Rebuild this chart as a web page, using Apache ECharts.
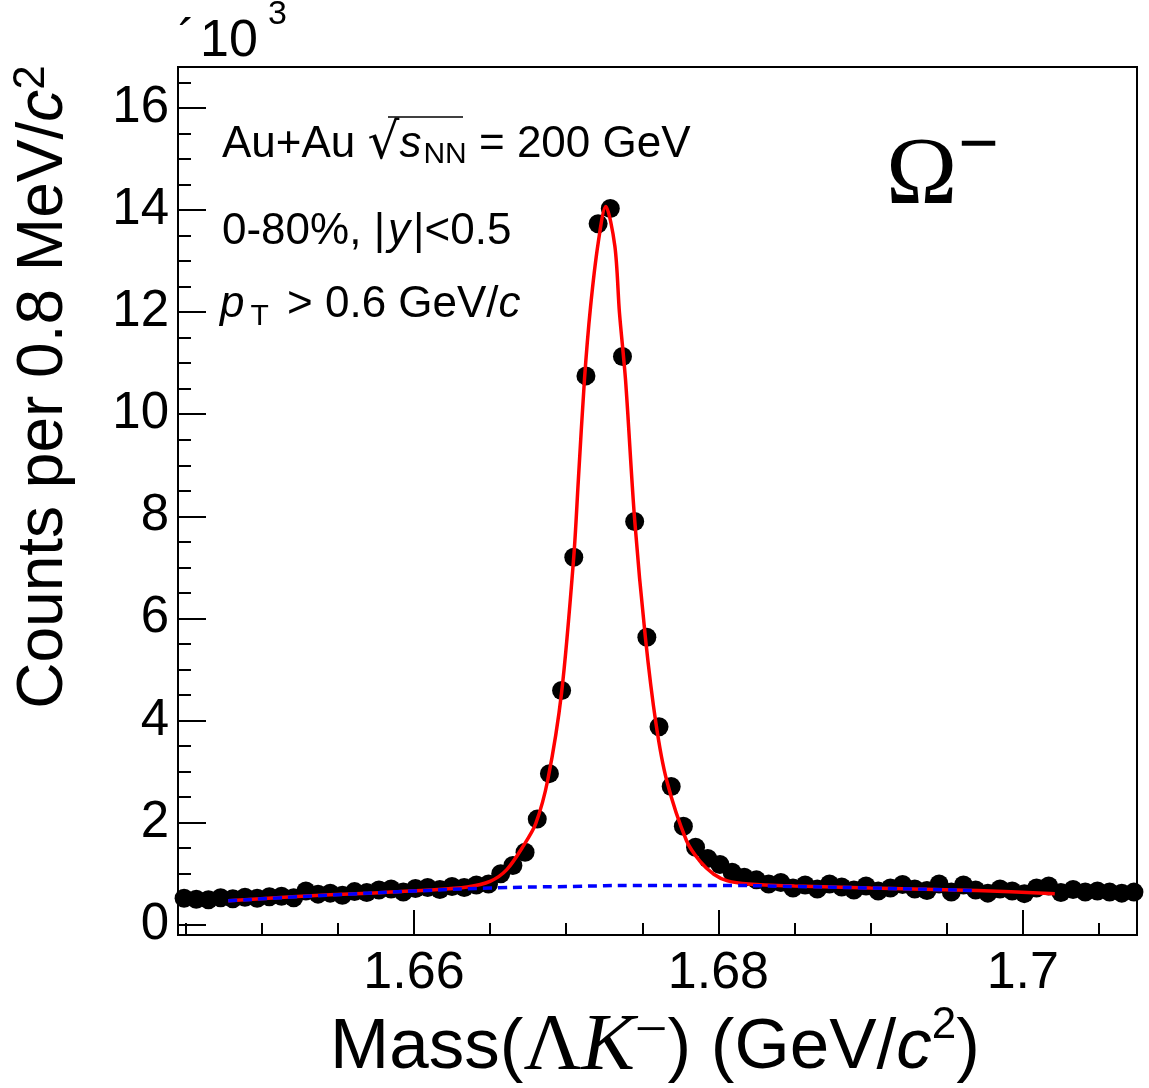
<!DOCTYPE html>
<html>
<head>
<meta charset="utf-8">
<script src="https://cdn.jsdelivr.net/npm/echarts@6/dist/echarts.min.js"></script>
<style>
html,body{margin:0;padding:0;background:#fff;}
#chart{width:1149px;height:1088px;}
</style>
</head>
<body>
<div id="chart"></div>
<script>
// ---- Data (counts in units of 10^3 per 0.8 MeV/c^2 bin) ----
const HIST_START = 1.6445;   // GeV/c^2, left edge of first bin
const BIN_WIDTH = 0.0008;    // GeV/c^2
const counts = [
  0.52, 0.50, 0.49, 0.53, 0.51, 0.54, 0.52, 0.55, 0.56, 0.53,
  0.66, 0.60, 0.62, 0.58, 0.65, 0.63, 0.68, 0.70, 0.64, 0.71,
  0.73, 0.69, 0.75, 0.73, 0.78, 0.80, 1.00, 1.16, 1.42, 2.07,
  2.96, 4.59, 7.20, 10.75, 13.73, 14.03, 11.13, 7.90, 5.63, 3.88,
  2.71, 1.93, 1.52, 1.30, 1.18, 1.03, 0.93, 0.88, 0.80, 0.83,
  0.72, 0.78, 0.70, 0.80, 0.74, 0.68, 0.76, 0.66, 0.72, 0.79,
  0.70, 0.67, 0.80, 0.64, 0.78, 0.68, 0.62, 0.70, 0.66, 0.61,
  0.72, 0.76, 0.63, 0.69, 0.64, 0.66, 0.64, 0.62, 0.64
];
// total fit (red)
const fitX = [1.6478, 1.6520, 1.6570, 1.6610, 1.6635, 1.6650, 1.6661, 1.6672, 1.6680, 1.6688,
              1.6697, 1.6705, 1.6708, 1.6712, 1.6716, 1.6721, 1.6726, 1.6732, 1.6735, 1.6739,
              1.6745, 1.6752, 1.6759, 1.6766, 1.6779, 1.6788, 1.6797, 1.6806, 1.6820, 1.6850,
              1.6900, 1.6970, 1.7021];
const fitY = [0.47, 0.55, 0.62, 0.68, 0.74, 0.85, 1.08, 1.55, 1.98, 2.85,
              4.55, 7.21, 8.71, 10.67, 12.1, 13.35, 14.07, 13.29, 11.99, 10.67,
              7.93, 5.64, 3.94, 2.83, 1.65, 1.24, 0.99, 0.86, 0.80, 0.76,
              0.72, 0.67, 0.61];
// residual background (blue dashed)
const bgX = [1.6478, 1.6550, 1.6600, 1.6650, 1.6700, 1.6750, 1.6800, 1.6850, 1.6900, 1.6970];
const bgY = [0.47, 0.59, 0.66, 0.72, 0.75, 0.77, 0.77, 0.75, 0.72, 0.67];

// axes
const xMin = 1.6445, xMax = 1.7075;
const yMin = -0.2, yMax = 16.8;
const xTickLabels = [1.66, 1.68, 1.70];
const yTickLabels = [0, 2, 4, 6, 8, 10, 12, 14, 16];
const xMinorStep = 0.005, yMinorStep = 0.5;

// ---- build ----
const points = counts.map((c, i) => [HIST_START + BIN_WIDTH * (i + 0.5), c]);
const fitLine = fitX.map((x, i) => [x, fitY[i]]);
const bgLine = bgX.map((x, i) => [x, bgY[i]]);

const xMinor = [];
for (let v = Math.ceil(xMin / xMinorStep) * xMinorStep; v <= xMax + 1e-9; v += xMinorStep) {
  const r = Math.round(v * 1e4) / 1e4;
  if (!xTickLabels.some(t => Math.abs(t - r) < 1e-6)) xMinor.push(r);
}
const yMinor = [];
for (let v = 0; v <= yMax + 1e-9; v += yMinorStep) {
  if (!yTickLabels.some(t => Math.abs(t - v) < 1e-6)) yMinor.push(v);
}

const FONT = '"Liberation Sans", Arial, Helvetica, sans-serif';
const SERIF = '"Liberation Serif", "Times New Roman", serif';
const fmt = v => String(+(+v).toFixed(3));

const chart = echarts.init(document.getElementById('chart'), null, {renderer: 'canvas'});
chart.setOption({
  animation: false,
  backgroundColor: '#fff',
  grid: {left: 178, right: 12, top: 67, bottom: 153, show: true,
         borderColor: '#000', borderWidth: 2, backgroundColor: 'transparent'},
  xAxis: [
    {type: 'value', min: xMin, max: xMax, position: 'bottom',
     axisLine: {show: true, onZero: false, lineStyle: {color: '#000', width: 2}},
     axisTick: {show: true, inside: true, length: 25, customValues: xTickLabels,
                lineStyle: {color: '#000', width: 2}},
     axisLabel: {show: true, customValues: xTickLabels, formatter: fmt, margin: 13,
                 color: '#000', fontSize: 52, fontFamily: FONT},
     splitLine: {show: false}},
    {type: 'value', min: xMin, max: xMax, position: 'bottom', offset: 0,
     axisLine: {show: false, onZero: false},
     axisTick: {show: true, inside: true, length: 12, customValues: xMinor,
                lineStyle: {color: '#000', width: 2}},
     axisLabel: {show: false},
     splitLine: {show: false}}
  ],
  yAxis: [
    {type: 'value', min: yMin, max: yMax, position: 'left',
     axisLine: {show: true, onZero: false, lineStyle: {color: '#000', width: 2}},
     axisTick: {show: true, inside: true, length: 28, customValues: yTickLabels,
                lineStyle: {color: '#000', width: 2}},
     axisLabel: {show: true, customValues: yTickLabels, formatter: fmt, margin: 9,
                 color: '#000', fontSize: 51, fontFamily: FONT},
     splitLine: {show: false}},
    {type: 'value', min: yMin, max: yMax, position: 'left', offset: 0,
     axisLine: {show: false, onZero: false},
     axisTick: {show: true, inside: true, length: 13, customValues: yMinor,
                lineStyle: {color: '#000', width: 2}},
     axisLabel: {show: false},
     splitLine: {show: false}}
  ],
  series: [
    {type: 'scatter', xAxisIndex: 0, yAxisIndex: 0, data: points, symbol: 'circle',
     symbolSize: 19, itemStyle: {color: '#000', opacity: 1}, silent: true, z: 2},
    {type: 'line', xAxisIndex: 0, yAxisIndex: 0, data: fitLine, showSymbol: false,
     smooth: 0.3,
     lineStyle: {color: '#ff0000', width: 3.5}, silent: true, z: 3},
    {type: 'line', xAxisIndex: 0, yAxisIndex: 0, data: bgLine, showSymbol: false,
     smooth: true,
     lineStyle: {color: '#0000ff', width: 3.5, type: [9, 6]}, silent: true, z: 4}
  ],
  graphic: [
    // y axis title
    {type: 'text', x: 44, y: 387, rotation: Math.PI / 2, z: 10,
     style: {text: 'Counts per 0.8 MeV/{i|c}{sup|2}', fill: '#000', font: '64px ' + FONT,
             align: 'center', verticalAlign: 'middle',
             rich: {i: {fontStyle: 'italic', fontSize: 64, fontFamily: FONT},
                    sup: {fontSize: 44, fontFamily: FONT, verticalAlign: 'top', padding: [0, 0, 24, 0]}}}},
    // x axis title
    {type: 'text', x: 655, y: 1048, z: 10,
     style: {text: 'Mass({s|Λ}{si|K}{sup|−}) (GeV/{i|c}{sup2|2})', fill: '#000', font: '71px ' + FONT,
             align: 'center', verticalAlign: 'middle',
             rich: {s: {fontFamily: SERIF, fontSize: 80},
                    si: {fontFamily: SERIF, fontStyle: 'italic', fontSize: 80},
                    sup: {fontFamily: SERIF, fontSize: 58, verticalAlign: 'top', padding: [0, 0, 30, 0]},
                    i: {fontStyle: 'italic', fontSize: 71, fontFamily: FONT},
                    sup2: {fontSize: 44, fontFamily: FONT, verticalAlign: 'top', padding: [0, 0, 14, 0]}}}},
    // x10^3
    {type: 'text', x: 178, y: 42, z: 10,
     style: {text: '´', fill: '#000', font: '52px ' + FONT, align: 'left', verticalAlign: 'middle'}},
    {type: 'text', x: 200, y: 42, z: 10,
     style: {text: '10', fill: '#000', font: '52px ' + FONT, align: 'left', verticalAlign: 'middle'}},
    {type: 'text', x: 268, y: 15, z: 10,
     style: {text: '3', fill: '#000', font: '34px ' + FONT, align: 'left', verticalAlign: 'middle'}},
    // annotations
    {type: 'text', x: 222, y: 145, z: 10,
     style: {text: 'Au+Au {r|√}{i|s}{sub|NN} = 200 GeV', fill: '#000', font: '44px ' + FONT,
             align: 'left', verticalAlign: 'middle',
             rich: {r: {fontSize: 50, fontFamily: '"DejaVu Sans", sans-serif'},
                    i: {fontStyle: 'italic', fontSize: 44, fontFamily: FONT},
                    sub: {fontSize: 30, fontFamily: FONT, verticalAlign: 'bottom', padding: [20, 0, 0, 2]}}}},
    {type: 'line', z: 10, shape: {x1: 388, y1: 117, x2: 463, y2: 117},
     style: {stroke: '#000', lineWidth: 1.5}},
    {type: 'text', x: 222, y: 232, z: 10,
     style: {text: '0-80%, |{i|y}|<0.5', fill: '#000', font: '44px ' + FONT,
             align: 'left', verticalAlign: 'middle',
             rich: {i: {fontStyle: 'italic', fontSize: 44, fontFamily: FONT, padding: [0, 3, 0, 3]}}}},
    {type: 'text', x: 220, y: 305, z: 10,
     style: {text: '{i|p}{sub|T} > 0.6 GeV/{i|c}', fill: '#000', font: '44px ' + FONT,
             align: 'left', verticalAlign: 'middle',
             rich: {i: {fontStyle: 'italic', fontSize: 44, fontFamily: FONT},
                    sub: {fontSize: 30, fontFamily: FONT, verticalAlign: 'bottom', padding: [24, 6, 0, 6]}}}},
    // particle label
    {type: 'text', x: 886, y: 178, z: 10,
     style: {text: 'Ω', fill: '#000', font: '96px ' + SERIF, align: 'left', verticalAlign: 'middle'}},
    {type: 'text', x: 958, y: 148, z: 10,
     style: {text: '−', fill: '#000', font: 'bold 72px ' + SERIF, align: 'left', verticalAlign: 'middle'}}
  ]
});
</script>
</body>
</html>
